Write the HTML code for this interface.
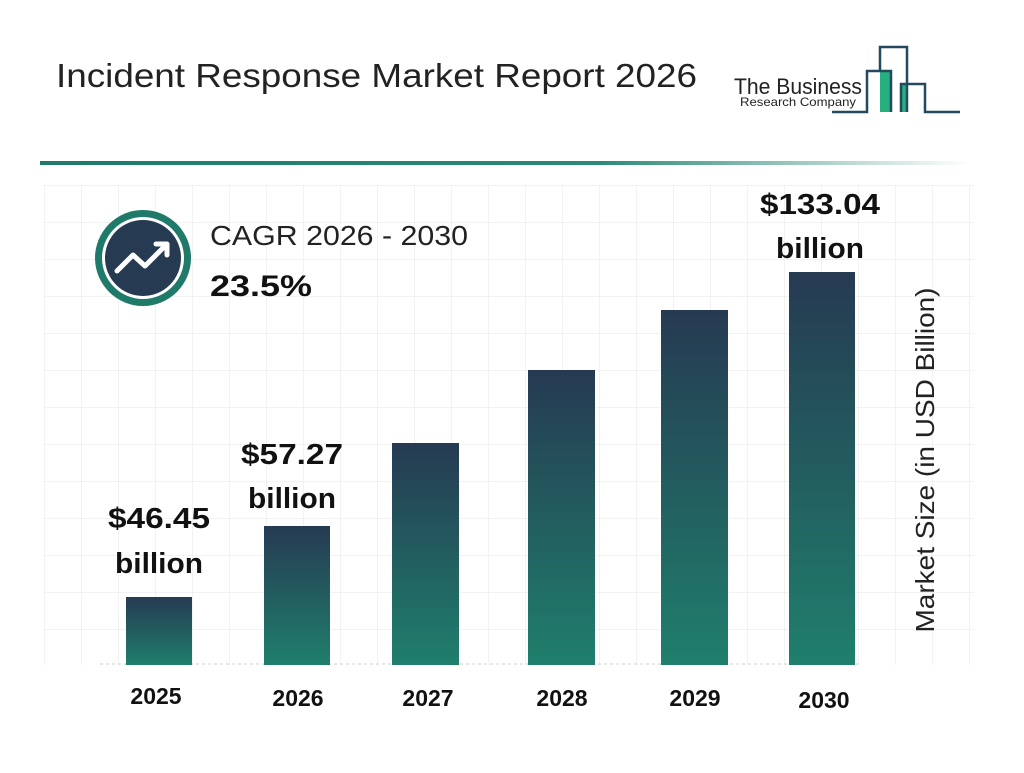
<!DOCTYPE html>
<html><head><meta charset="utf-8"><style>
body{margin:0;width:1024px;height:768px;background:#fff;overflow:hidden;font-family:"Liberation Sans",sans-serif;}
</style></head><body>
<svg width="1024" height="768" xmlns="http://www.w3.org/2000/svg">
<defs>
<linearGradient id="bg" x1="0" y1="0" x2="0" y2="1"><stop offset="0" stop-color="#263a52"/><stop offset="1" stop-color="#1f7f6c"/></linearGradient>
<linearGradient id="ln" x1="0" y1="0" x2="1" y2="0"><stop offset="0" stop-color="#1f7a6a"/><stop offset="0.6" stop-color="#2a8a76"/><stop offset="1" stop-color="#ffffff"/></linearGradient>
<pattern id="grid" x="81" y="185" width="37" height="37" patternUnits="userSpaceOnUse"><path d="M0 0V37M0 0H37" stroke="#e6e6e6" stroke-width="1" fill="none"/></pattern>
</defs>
<rect x="44" y="185" width="930" height="480" fill="url(#grid)"/>
<text x="56" y="87" font-size="33" fill="#222" textLength="641" lengthAdjust="spacingAndGlyphs">Incident Response Market Report 2026</text>
<text x="734" y="94" font-size="22" fill="#222" textLength="128" lengthAdjust="spacingAndGlyphs">The Business</text>
<text x="740" y="106" font-size="12" fill="#222" textLength="116" lengthAdjust="spacingAndGlyphs">Research Company</text>
<rect x="880" y="71" width="11" height="41" fill="#25b07f"/>
<rect x="901" y="84" width="5" height="28" fill="#25b07f"/>
<path d="M832 112H867V71H891V112M880 71V47H907V112M901 112V84H925V112H960" stroke="#234a5e" stroke-width="2.5" fill="none"/>
<rect x="40" y="161" width="930" height="4" fill="url(#ln)"/>
<line x1="100" y1="664" x2="860" y2="664" stroke="#ccc" stroke-dasharray="3,3"/>
<circle cx="143" cy="258" r="48" fill="#1f7a6a"/>
<circle cx="143" cy="258" r="41" fill="#fff"/>
<circle cx="143" cy="258" r="38" fill="#263a52"/>
<path d="M117 271L133 255L145 266L166 245M156 244H167V255" stroke="#fff" stroke-width="5" fill="none" stroke-linecap="round" stroke-linejoin="round"/>
<text x="210" y="245" font-size="28" fill="#222" textLength="258" lengthAdjust="spacingAndGlyphs">CAGR 2026 - 2030</text>
<text x="210" y="296" font-size="30" font-weight="bold" fill="#111" textLength="102" lengthAdjust="spacingAndGlyphs">23.5%</text>
<g fill="url(#bg)">
<rect x="126" y="597" width="66" height="68"/>
<rect x="264" y="526" width="66" height="139"/>
<rect x="392" y="443" width="67" height="222"/>
<rect x="528" y="370" width="67" height="295"/>
<rect x="661" y="310" width="67" height="355"/>
<rect x="789" y="272" width="66" height="393"/>
</g>
<g font-size="29" font-weight="bold" fill="#111" text-anchor="middle">
<text x="159" y="528" textLength="102" lengthAdjust="spacingAndGlyphs">$46.45</text><text x="159" y="573" textLength="88" lengthAdjust="spacingAndGlyphs">billion</text>
<text x="292" y="464" textLength="102" lengthAdjust="spacingAndGlyphs">$57.27</text><text x="292" y="508" textLength="88" lengthAdjust="spacingAndGlyphs">billion</text>
<text x="820" y="214" textLength="120" lengthAdjust="spacingAndGlyphs">$133.04</text><text x="820" y="258" textLength="88" lengthAdjust="spacingAndGlyphs">billion</text>
</g>
<g font-size="23" font-weight="bold" fill="#111" text-anchor="middle">
<text x="156" y="704">2025</text><text x="298" y="706">2026</text><text x="428" y="706">2027</text>
<text x="562" y="706">2028</text><text x="695" y="706">2029</text><text x="824" y="708">2030</text>
</g>
<text transform="translate(934,460) rotate(-90)" font-size="26" fill="#222" text-anchor="middle" textLength="345" lengthAdjust="spacingAndGlyphs">Market Size (in USD Billion)</text>
</svg>
</body></html>
